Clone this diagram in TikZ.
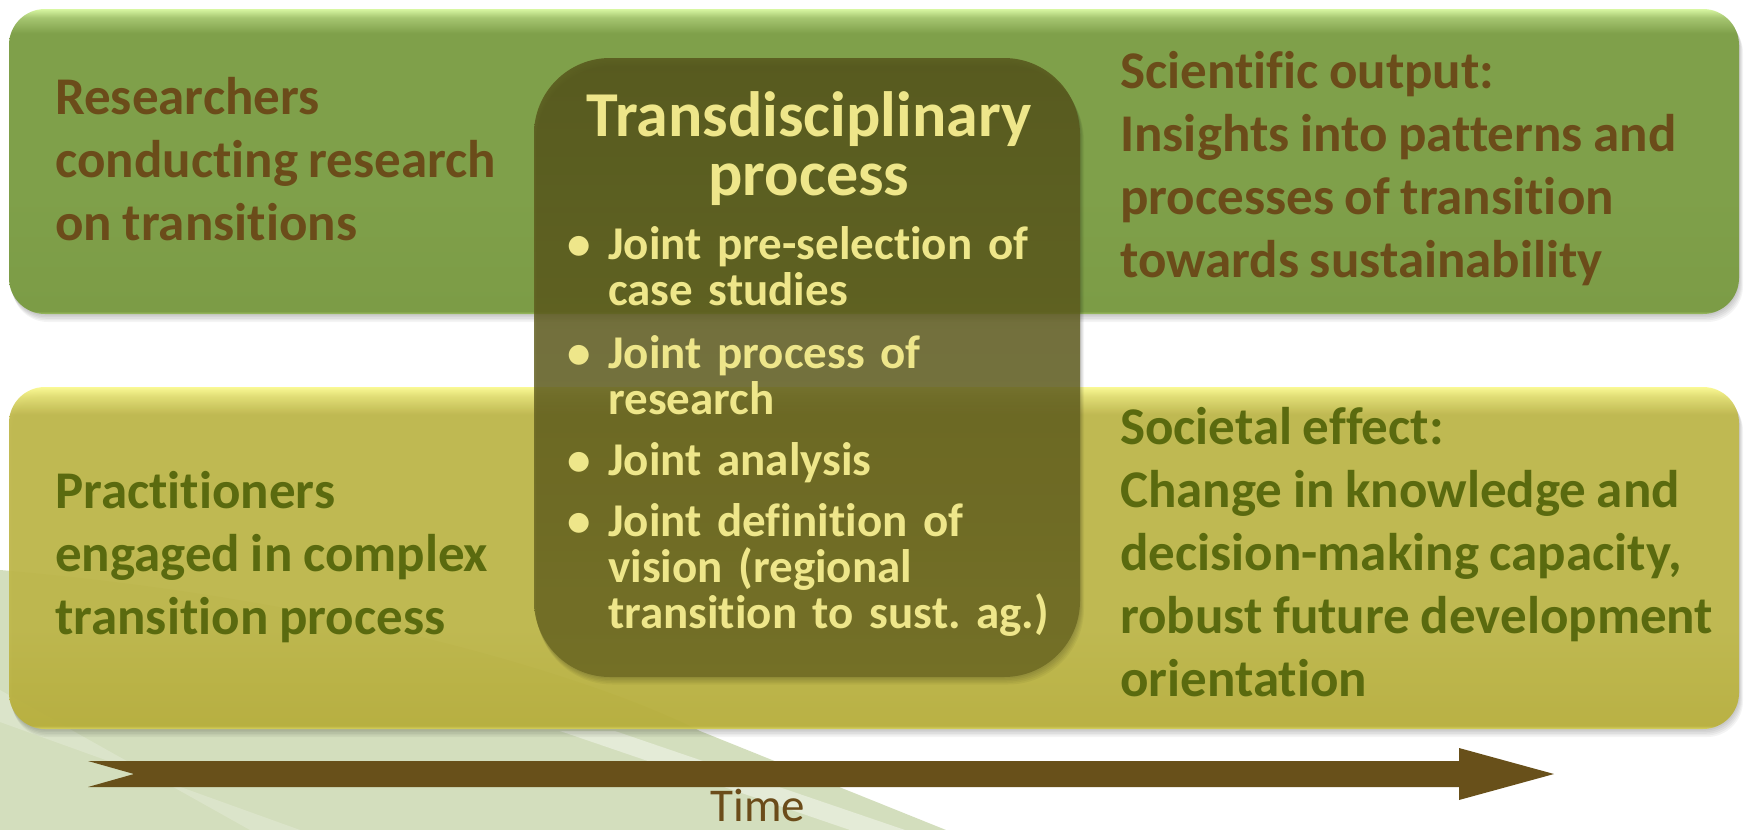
\documentclass[tikz,border=0pt]{standalone}
\usepackage{fontspec}
\setmainfont{Carlito}[Ligatures=NoCommon]

% palette
\definecolor{grnbase}{HTML}{7FA04A}
\definecolor{grnlow}{HTML}{7C9C46}
\definecolor{grnhi}{HTML}{A6C671}
\definecolor{grnedge}{HTML}{D8F7A2}
\definecolor{grnrim}{HTML}{9DBE62}
\definecolor{yelbase}{HTML}{BFB84B}
\definecolor{yellow2}{HTML}{B9B03C}
\definecolor{yelhi}{HTML}{E2DE70}
\definecolor{yeledge}{HTML}{FAF98E}
\definecolor{yelrim}{HTML}{DCD65A}
\definecolor{coretop}{HTML}{55531A}
\definecolor{corebot}{HTML}{6D6922}
\definecolor{browntext}{HTML}{6B4C1A}
\definecolor{olivetext}{HTML}{5A6A0F}
\definecolor{paletext}{HTML}{EEE68A}
\definecolor{arrowbrown}{HTML}{68501A}
\definecolor{swoosh}{HTML}{D3DEBD}

% band shadings: the path spans 25bp..75bp of the declared range
\pgfdeclareverticalshading{greenband}{100bp}{%
  color(0bp)=(grnrim); color(25bp)=(grnrim); color(25.5bp)=(grnlow);
  color(45bp)=(grnbase); color(71bp)=(grnbase); color(73.6bp)=(grnhi);
  color(75bp)=(grnedge); color(100bp)=(grnedge)}
\pgfdeclareverticalshading{yellowband}{100bp}{%
  color(0bp)=(yelrim); color(25bp)=(yelrim); color(25.5bp)=(yellow2);
  color(40bp)=(yelbase); color(71bp)=(yelbase); color(73.6bp)=(yelhi);
  color(75bp)=(yeledge); color(100bp)=(yeledge)}

% slightly narrower word spaces for the band texts
\DeclareRobustCommand{\tightwords}{\spaceskip=0.2em\relax}

\tikzset{
  band/.style={rectangle, rounded corners=36pt, inner sep=0pt,
    minimum width=1730pt},
  softshadow/.style={fill=black, fill opacity=0.045},
  sidetext/.style={anchor=base west, inner sep=0pt, text width=640pt,
    align=left, font=\fontsize{53}{63}\selectfont\bfseries,
    execute at begin node=\tightwords},
  coretext/.style={inner sep=0pt, color=paletext, font=\bfseries},
}

\newcommand{\bulletmark}{\leavevmode\llap{•\hspace{17pt}}\ignorespaces}

\begin{document}
\begin{tikzpicture}[x=1pt,y=-1pt]
\useasboundingbox (0,0) rectangle (1746,830);
\fill[white] (0,0) rectangle (1746,830);

% pale swoosh in the lower left corner
\fill[swoosh] (0,570) .. controls (350,600) and (600,680) .. (700,731)
  -- (946,830) -- (0,830) -- cycle;
\fill[white, opacity=0.4] (560,731) -- (615,731) -- (905,830) -- (850,830) -- cycle;
\fill[white, opacity=0.2] (0,690) -- (0,722) -- (300,830) -- (250,830) -- cycle;

% soft shadows under the two bands
\foreach \k in {1,...,5}{
  \fill[softshadow, rounded corners=36pt]
    (9+\k*0.6,9+\k*1.6) rectangle (1739+\k*0.8,314+\k*1.6);
  \fill[softshadow, rounded corners=36pt]
    (9+\k*0.6,387+\k*1.6) rectangle (1739+\k*0.8,729+\k*1.6);
}

% the two horizontal bands
\node[band, shading=greenband, minimum height=305pt] (topband) at (874,161.5) {};
\node[band, shading=yellowband, minimum height=342pt, fill opacity=0.94] (lowband) at (874,558) {};

% central rounded panel
\foreach \k in {1,...,5}{
  \fill[softshadow, rounded corners=76pt]
    (534+\k*0.5,58+\k*1.5) rectangle (1080+\k*0.8,677+\k*1.5);
}
\node[rectangle, rounded corners=76pt, minimum width=546pt, minimum height=619pt,
  top color=coretop, bottom color=corebot, fill opacity=0.82, inner sep=0pt]
  (core) at (807,367.5) {};

% band texts
\node[sidetext, color=browntext] (researchers) at (55,114)
  {Researchers\\conducting research\\on transitions};
\node[sidetext, color=browntext] (sciout) at (1120,88)
  {Scientific output:\\Insights into patterns and\\processes of transition\\towards sustainability};
\node[sidetext, color=olivetext] (practitioners) at (55,508)
  {Practitioners\\engaged in complex\\transition process};
\node[sidetext, color=olivetext] (societal) at (1120,444)
  {Societal effect:\\Change in knowledge and\\decision-making capacity,\\robust future development\\orientation};

% panel title and steps
\node[coretext, anchor=base, text width=540pt, align=center,
  font=\fontsize{64}{59}\selectfont\bfseries] (title) at (809,136)
  {Transdisciplinary\\process};
\node[coretext, anchor=base west, text width=480pt, align=left,
  font=\fontsize{47}{46}\selectfont\bfseries] (steps) at (608,259)
  {\bulletmark Joint pre-selection of\\case studies\\[17pt]%
\bulletmark Joint process of\\research\\[15pt]%
\bulletmark Joint analysis\\[15pt]%
\bulletmark Joint definition of\\vision (regional\\transition to sust.~ag.)};

% time axis
\coordinate (tailtip) at (88,761);
\coordinate (headtip) at (1554,774);
\fill[arrowbrown] (tailtip) -- (1459,761) -- (1459,748) -- (headtip)
  -- (1459,800) -- (1459,787) -- (88,787) -- (134,774) -- cycle;
\node[anchor=base, inner sep=0pt, color=browntext,
  font=\fontsize{47}{50}\selectfont] (timelabel) at (758,821) {Time};
\end{tikzpicture}
\end{document}
